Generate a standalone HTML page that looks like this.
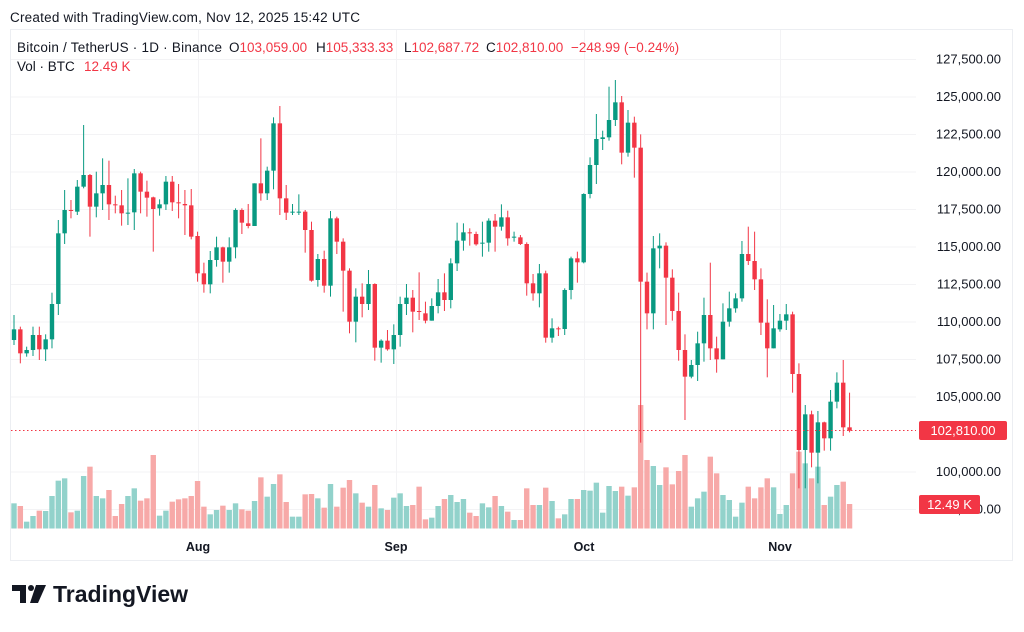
<!DOCTYPE html>
<html><head><meta charset="utf-8"><style>
body{margin:0;width:1024px;height:627px;background:#fff;overflow:hidden;font-family:"Liberation Sans",sans-serif;}
</style></head><body>
<svg id="s" width="1024" height="627" xmlns="http://www.w3.org/2000/svg" font-family="Liberation Sans, sans-serif">
<text x="10" y="22" font-size="13.5" fill="#131722" textLength="350">Created with TradingView.com, Nov 12, 2025 15:42 UTC</text>
<rect x="10.5" y="29.5" width="1002" height="531" fill="none" stroke="#eceef2"/>
<g id="grid" stroke="#f3f3f5" stroke-width="1"></g>
<g id="vol"></g>
<g id="cdl"></g>
<line x1="11" y1="430.5" x2="916" y2="430.5" stroke="#f23645" stroke-dasharray="1.5 2.5"/>
<g id="lab" font-size="13" fill="#131722"></g>
<rect x="919" y="421" width="88" height="19" rx="2" fill="#f23645"/>
<text x="963" y="435" font-size="13" fill="#fff" text-anchor="middle">102,810.00</text>
<rect x="919" y="495" width="61" height="19" rx="2" fill="#f23645"/>
<text x="949.5" y="509" font-size="13" fill="#fff" text-anchor="middle">12.49 K</text>
<g font-size="12.5" font-weight="bold" fill="#131722" text-anchor="middle">
<text x="198" y="551">Aug</text><text x="396" y="551">Sep</text><text x="584" y="551">Oct</text><text x="780" y="551">Nov</text></g>
<g font-size="13.5" fill="#131722">
<text x="17" y="52" textLength="205">Bitcoin / TetherUS · 1D · Binance</text>
<text x="229" y="52">O<tspan fill="#f23645">103,059.00</tspan></text>
<text x="316" y="52">H<tspan fill="#f23645">105,333.33</tspan></text>
<text x="404" y="52">L<tspan fill="#f23645">102,687.72</tspan></text>
<text x="486" y="52">C<tspan fill="#f23645">102,810.00</tspan></text>
<text x="571" y="52" fill="#f23645">−248.99 (−0.24%)</text>
<text x="17" y="71">Vol · BTC</text>
<text x="84" y="71" fill="#f23645">12.49 K</text>
</g>
<g fill="#131722">
<path d="M12 585h14v18h-6v-12h-8z"/><circle cx="31" cy="588" r="3"/><path d="M36 585h10l-8 18h-8z"/>
</g>
<text x="53" y="602" font-size="23" font-weight="bold" fill="#131722">TradingView</text>
</svg>
<script>
var g1=[[688,720,645,735,'g'],[688,760,680,790,'r'],[750,760,740,770,'g'],[705,750,680,768,'g'],[705,748,680,780,'r'],[718,748,703,783,'g'],[612,718,578,745,'g'],[400,612,360,645,'g'],[330,400,270,432,'g'],[330,333,300,355,'r'],[260,335,240,345,'g'],[225,260,75,265,'g'],[225,320,222,410,'r'],[280,320,215,352,'g'],[255,280,175,330,'g'],[255,313,182,360,'r'],[313,316,287,340,'r'],[316,340,270,377,'r'],[338,340,235,375,'g'],[220,337,207,390,'g'],[220,275,215,340,'r'],[275,293,242,350,'r'],[292,327,290,455,'r'],[313,325,298,347,'g'],[245,313,228,330,'g'],[245,307,228,333,'r'],[307,310,252,355,'r'],[312,316,270,405,'r'],[316,410,267,418,'r'],[408,520,395,545,'r'],[520,553,488,578,'r'],[480,553,453,580,'g'],[442,480,410,500,'g'],[442,485,440,548,'r'],[442,485,412,518,'g'],[330,442,325,475,'g'],[330,368,325,402,'r'],[370,378,312,385,'r'],[250,378,250,378,'g'],[250,280,115,302,'r'],[212,280,200,300,'g'],[70,212,52,268,'g'],[70,295,18,345,'r'],[295,338,255,360,'r'],[335,337,312,345,'g']];
var g2=[[335,337,283,345,'g'],[335,390,330,458,'r'],[390,542,365,545,'r'],[477,540,462,560,'g'],[477,557,452,578,'r'],[355,557,333,590,'g'],[355,425,350,462,'r'],[425,512,415,635,'r'],[512,665,505,700,'r'],[590,665,565,727,'g'],[590,612,550,652,'r'],[552,612,510,630,'g'],[552,743,550,782,'r'],[722,743,718,788,'g'],[722,748,690,752,'r'],[705,748,673,792,'g'],[612,705,590,740,'g'],[593,612,552,645,'g'],[593,635,570,697,'r'],[633,636,517,660,'r'],[640,662,605,670,'r'],[618,662,595,662,'g'],[577,618,537,640,'g'],[577,600,520,633,'r'],[490,600,475,625,'g'],[422,490,368,513,'g'],[397,422,370,452,'g'],[397,400,385,437,'r'],[402,433,395,437,'r'],[428,430,365,470,'g'],[362,428,355,455,'g'],[362,380,342,455,'r'],[352,380,313,392,'g'],[352,415,332,437,'r'],[410,412,395,425,'g'],[412,432,405,435,'r'],[432,550,427,587,'r'],[550,580,522,602,'r'],[520,580,492,622,'g'],[520,713,512,728,'r'],[685,713,655,728,'g'],[685,687,680,708,'r'],[570,687,565,705,'g'],[475,570,470,598,'g'],[475,487,455,548,'r'],[282,487,280,490,'g']];
var g3=[[285,372,262,385,'g'],[207,285,132,342,'g'],[202,207,182,240,'g'],[150,202,50,212,'g'],[97,150,30,168,'g'],[97,248,78,283,'r'],[158,248,120,260,'g'],[158,233,140,323,'r'],[233,635,193,1118,'r'],[635,730,608,778,'r'],[535,730,498,778,'g'],[527,535,490,595,'g'],[527,623,517,765,'r'],[623,723,598,752,'r'],[723,840,668,872,'r'],[840,920,793,1050,'r'],[885,920,870,925,'g'],[820,885,785,933,'g'],[735,820,683,875,'g'],[735,835,578,870,'r'],[835,868,800,908,'r'],[755,868,700,868,'g'],[715,755,665,770,'g'],[685,715,670,728,'g'],[552,685,513,695,'g'],[552,573,470,585,'r'],[573,628,485,660,'r'],[628,758,595,795,'r'],[758,835,688,922,'r'],[775,835,705,835,'g'],[752,778,732,785,'g'],[733,752,702,780,'g'],[733,912,725,968,'r'],[912,1140,880,1255,'r'],[1033,1140,1005,1255,'g'],[1033,1148,1022,1192,'r'],[1057,1148,1023,1240,'g'],[1057,1105,1055,1142,'r'],[995,1105,960,1142,'g'],[938,995,907,1015,'g'],[938,1072,870,1098,'r'],[1072,1082,968,1087,'r']];
var v1=[1210,1218,1265,1248,1232,1233,1188,1142,1135,1237,1232,1128,1100,1188,1195,1170,1248,1212,1188,1165,1202,1195,1065,1247,1232,1205,1198,1195,1188,1143,1220,1243,1230,1217,1230,1210,1228,1232,1203,1132,1190,1152,1123,1206,1250];
var v2=[1250,1183,1182,1195,1223,1152,1220,1163,1140,1180,1208,1220,1155,1225,1230,1193,1180,1218,1215,1160,1258,1253,1218,1197,1185,1206,1197,1238,1248,1210,1222,1188,1218,1235,1260,1260,1165,1215,1215,1163,1203,1255,1243,1197,1197,1170];
var v3=[1262,1238,1328,1248,1263,1250,1277,1252,1005,1170,1188,1245,1192,1243,1203,1155,1310,1285,1265,1160,1210,1275,1290,1340,1298,1250,1285,1252,1225,1252,1332,1305,1210,1145,1180,1225,1190,1305,1280,1245,1235,1302];
var C=[],V=[];
g1.forEach(function(c){C.push(c.slice(0,4).map(function(z){return 100+z/3}).concat(c[4]))});
g2.forEach(function(c){C.push(c.slice(0,4).map(function(z){return 100+z/3}).concat(c[4]))});
g3.forEach(function(c){C.push(c.slice(0,4).map(function(z){return 70+z/3}).concat(c[4]))});
v1.concat(v2).forEach(function(z){V.push(100+z/3)});v3.forEach(function(z){V.push(70+z/3)});
var NS='http://www.w3.org/2000/svg';
function el(p,t,a){var e=document.createElementNS(NS,t);for(var k in a)e.setAttribute(k,a[k]);document.getElementById(p).appendChild(e);return e;}
var prices=['127,500.00','125,000.00','122,500.00','120,000.00','117,500.00','115,000.00','112,500.00','110,000.00','107,500.00','105,000.00','100,000.00','97,500.00'];
var ys=[59,96.5,134,171.5,209,246.5,284,321.5,359,396.5,471.5,509];
ys.forEach(function(y,i){el('grid','line',{x1:11,x2:916,y1:y+0.5,y2:y+0.5});var t=el('lab','text',{x:1001,y:y+4.5,'text-anchor':'end'});t.textContent=prices[i];});
[198,396,584,780].forEach(function(x){el('grid','line',{x1:x+0.5,x2:x+0.5,y1:30,y2:529});});
for(var i=0;i<C.length;i++){var c=C[i],x=14+i*6.33,col=c[4]=='g'?'#089981':'#f23645',vc=c[4]=='g'?'#92d2cb':'#f7a9a8';
 el('cdl','line',{x1:x,x2:x,y1:c[2],y2:c[3],stroke:col,'stroke-width':1});
 el('cdl','rect',{x:x-2.2,y:c[0],width:4.4,height:Math.max(1,c[1]-c[0]),fill:col});
 if(V[i]!==undefined)el('vol','rect',{x:x-2.7,y:V[i],width:5.4,height:Math.max(0,528.5-V[i]),fill:vc});}
</script>
</body></html>
